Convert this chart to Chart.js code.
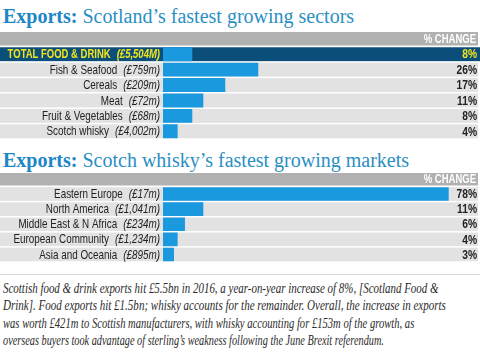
<!DOCTYPE html>
<html>
<head>
<meta charset="utf-8">
<script src="https://cdn.jsdelivr.net/npm/chart.js@4"></script>
<style>
  body { margin: 0; width: 480px; height: 353px; background: #fff; position: relative; overflow: hidden; }
  .title { position: absolute; left: 3px; font-family: "Liberation Serif", serif; font-size: 20px; color: #2a8fc2; white-space: nowrap; line-height: 20px; }
  .title b { color: #1c86c6; }
  canvas { position: absolute; left: 0; }
  .rule { position: absolute; left: 0; top: 274px; width: 480px; height: 1px; background: #d9d9d9; }
  .note { position: absolute; left: 3px; top: 280px; font-family: "Liberation Serif", serif; font-style: italic; font-size: 14.5px; line-height: 17.3px; color: #2a2a2a; }
  .note div { white-space: nowrap; transform-origin: 0 0; }
</style>
</head>
<body>
<div class="title" style="top:6px"><b>Exports:</b> Scotland’s fastest growing sectors</div>
<canvas id="sectorChart" width="480" height="108" style="top:32px"></canvas>
<div class="title" style="top:150px"><b>Exports:</b> Scotch whisky’s fastest growing markets</div>
<canvas id="marketChart" width="480" height="90" style="top:173px"></canvas>
<div class="rule"></div>
<div class="note" id="note">
  <div data-w="440">Scottish food &amp; drink exports hit £5.5bn in 2016, a year-on-year increase of 8%, [Scotland Food &amp;</div>
  <div data-w="443">Drink]. Food exports hit £1.5bn; whisky accounts for the remainder. Overall, the increase in exports</div>
  <div data-w="426">was worth £421m to Scottish manufacturers, with whisky accounting for £153m of the growth, as</div>
  <div data-w="413">overseas buyers took advantage of sterling’s weakness following the June Brexit referendum.</div>
</div>
<script>
// data
var sectorNames = ['TOTAL FOOD & DRINK', 'Fish & Seafood', 'Cereals', 'Meat', 'Fruit & Vegetables', 'Scotch whisky'];
var sectorExports = ['(£5,504M)', '(£759m)', '(£209m)', '(£72m)', '(£68m)', '(£4,002m)'];
var sectorChange = [8, 26, 17, 11, 8, 4];

var marketNames = ['Eastern Europe', 'North America', 'Middle East & N Africa', 'European Community', 'Asia and Oceania'];
var marketExports = ['(£17m)', '(£1,041m)', '(£234m)', '(£1,234m)', '(£895m)'];
var marketChange = [78, 11, 6, 4, 3];

var headerText = '% CHANGE';

var sans = '"Liberation Sans", Arial, sans-serif';
var squeeze = 0.76; // the original uses a condensed face

// right aligned, horizontally squeezed text
function rightText(ctx, text, x, y) {
  ctx.save();
  ctx.translate(x, y);
  ctx.scale(squeeze, 1);
  ctx.textAlign = 'right';
  ctx.fillText(text, 0, 0);
  var w = ctx.measureText(text).width * squeeze;
  ctx.restore();
  return w;
}

// draws header strip, row bands, labels and values around the bars
var tablePlugin = {
  id: 'table',
  beforeDatasetsDraw: function(chart, args, opts) {
    var ctx = chart.ctx, area = chart.chartArea, y = chart.scales.y;
    var n = chart.data.labels.length;
    var pitch = area.height / n, h = pitch - 1.5;
    ctx.save();
    ctx.fillStyle = '#b1b1b1';
    ctx.fillRect(0, area.top - opts.headerH - 1, 478, opts.headerH);
    ctx.fillStyle = '#fff';
    ctx.font = 'bold 12.5px ' + sans;
    ctx.textBaseline = 'middle';
    rightText(ctx, headerText, 476, area.top - 1 - opts.headerH / 2 + 0.5);
    for (var i = 0; i < n; i++) {
      var c = y.getPixelForValue(i);
      ctx.fillStyle = (opts.total && i === 0) ? '#0b4e79' : '#e2e2e2';
      ctx.fillRect(0, c - h / 2, (opts.total && i === 0) ? 480 : 478, h);
    }
    ctx.restore();
  },
  afterDatasetsDraw: function(chart, args, opts) {
    var ctx = chart.ctx, y = chart.scales.y;
    var data = chart.data.datasets[0].data;
    ctx.save();
    ctx.textBaseline = 'middle';
    for (var i = 0; i < data.length; i++) {
      var c = y.getPixelForValue(i) + 0.5;
      var isTotal = opts.total && i === 0;
      var size = isTotal ? '12.5px ' : '13px ';
      ctx.fillStyle = isTotal ? '#f2e51e' : '#222';
      ctx.font = (isTotal ? 'bold italic ' : 'italic ') + size + sans;
      var w = rightText(ctx, opts.amounts[i], 160, c);
      ctx.font = (isTotal ? 'bold ' : '') + size + sans;
      rightText(ctx, chart.data.labels[i], 160 - w - 6, c);
      ctx.font = 'bold 13.5px ' + sans;
      rightText(ctx, data[i] + '%', 477, c);
    }
    ctx.restore();
  }
};

function makeChart(id, names, amounts, values, padTop, headerH, total) {
  var n = names.length;
  var canvas = document.getElementById(id);
  var pitch = (canvas.height - padTop - 1) / n;
  return new Chart(canvas.getContext('2d'), {
    type: 'bar',
    data: {
      labels: names,
      datasets: [{
        data: values,
        backgroundColor: '#1b99de',
        borderWidth: 0,
        barPercentage: 1,
        categoryPercentage: (pitch - 1.5) / pitch
      }]
    },
    options: {
      indexAxis: 'y',
      responsive: false,
      animation: false,
      layout: { padding: { top: padTop, bottom: 1, left: 163, right: 2 } },
      scales: {
        x: { display: false, min: 0, max: 86 },
        y: { display: false }
      },
      plugins: {
        legend: { display: false },
        tooltip: { enabled: false },
        table: { amounts: amounts, headerH: headerH, total: total }
      }
    },
    plugins: [tablePlugin]
  });
}

makeChart('sectorChart', sectorNames, sectorExports, sectorChange, 14.5, 13.5, true);
makeChart('marketChart', marketNames, marketExports, marketChange, 13.5, 12.5, false);

// squeeze note lines to the measured widths of the original condensed face
document.querySelectorAll('#note div').forEach(function(d) {
  var target = +d.getAttribute('data-w');
  d.style.transform = 'scaleX(' + (target / d.scrollWidth) + ')';
});
</script>
</body>
</html>
